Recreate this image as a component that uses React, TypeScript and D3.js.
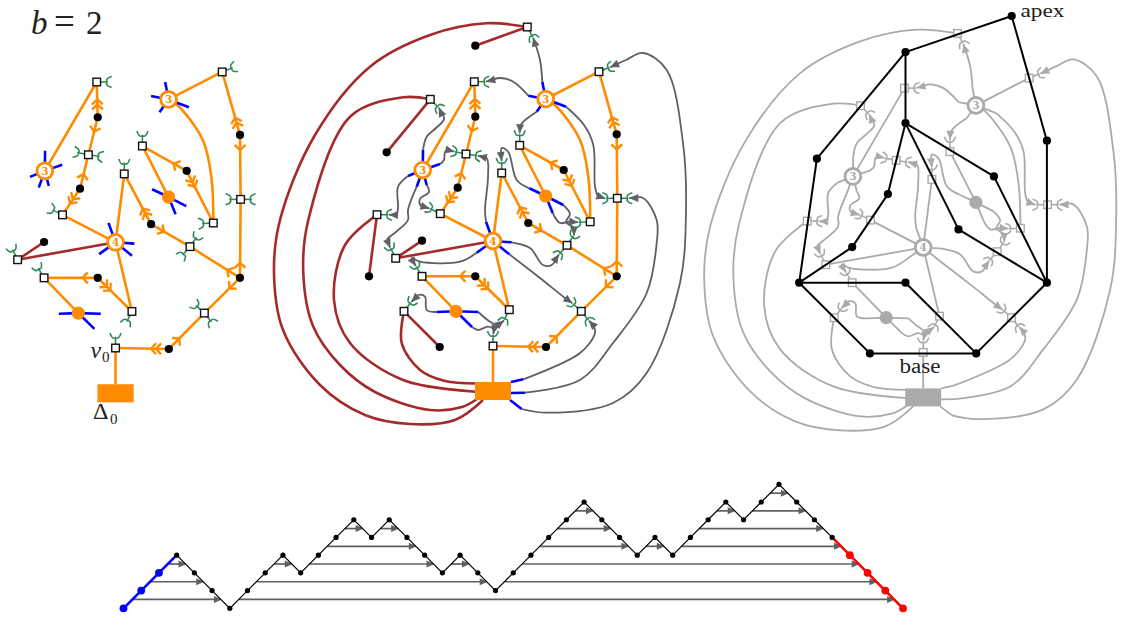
import React from "react";
import * as d3 from "d3";

type P = [number, number];

// positions; the other two panels go through scales
const squares: Record<string, P> = {
  A: [430.3, 99.3], B: [474.3, 81.7], C: [466, 154], D: [440.3, 213.7], E: [377, 214.7], F: [527.3, 27],
  G: [599, 71.7], H: [617.3, 198.3], I: [519.7, 145.3], J: [501.7, 173], K: [590.2, 221.8], L: [395.7, 258.3],
  M: [422, 276.3], N: [404, 311.3], O: [567, 245.3], P: [581.3, 311.3], Q: [509.3, 309.7], V: [493, 346],
};
const midOnlySquares = ["A", "E", "F", "N"];
const dots: Record<string, P> = {
  d1: [475.3, 45.7], d2: [386.7, 152.3], d3: [475.3, 116.7], d4: [457.7, 187.7], d5: [616.7, 134.3],
  d6: [563.7, 170], d7: [422, 240.7], d8: [369, 276.3], d9: [475.3, 276.3], d10: [439.7, 347],
  d11: [528.3, 223], d12: [616.7, 276.3], d13: [546, 347],
};
const midOnlyDots = ["d1", "d2", "d8", "d10"];
const apexPoint: P = [581.5, 9.6];
const hubs: Record<string, { at: P; label: string }> = {
  a: { at: [422.7, 170], label: "3" },
  b: { at: [545.7, 99], label: "3" },
  c: { at: [493, 241], label: "4" },
  o: { at: [545.7, 196], label: "" },
  q: { at: [456, 311.3], label: "" },
};
const baseBox = { x: 475, y: 382, w: 36, h: 18 };

const treeEdges: [string, string][] = [
  ["B", "a"], ["D", "c"], ["G", "b"], ["I", "o"], ["J", "c"], ["Q", "c"], ["M", "q"],
];
const treeCurve: P[] = [[545.7, 99], [555, 105], [580, 140], [588.3, 176.7], [590.2, 221.8]];
const spokeEdges: [string, string, number][] = [
  ["d3", "B", 2], ["d3", "C", 1], ["d4", "C", 1], ["d4", "D", 2], ["d5", "G", 2], ["d5", "H", 1],
  ["d12", "H", 1], ["d6", "I", 1], ["d6", "K", 2], ["d11", "J", 2], ["d11", "O", 1], ["d12", "O", 1],
  ["d12", "P", 1], ["d13", "P", 1], ["d13", "V", 2], ["d9", "M", 1], ["d9", "Q", 2],
];
const brownDotEdges: [string, string][] = [["d7", "L"], ["d1", "F"], ["d2", "A"], ["d8", "E"], ["d10", "N"]];
const brownArcs: P[][] = [
  [[527.3, 27], [486.7, 23.3], [430, 35], [370, 66.7], [315, 135], [280, 220], [274, 273], [283, 330], [320, 385], [365, 415], [410, 424], [455, 420], [483, 400]],
  [[430.3, 99.3], [403.3, 97.3], [350, 116.7], [308.3, 220], [303.3, 273.3], [313, 326], [340, 365], [375, 392], [430, 410], [462, 407], [477, 399]],
  [[377, 214.7], [345, 245], [334, 300], [350, 343], [403, 380], [476, 391.7]],
  [[404, 311.3], [401.7, 343], [420, 370], [445, 381], [476, 383.5]],
];

const ports: Record<string, [string, number, number]> = {
  pA: ["A", 1, 1], pB: ["B", 1, 0], pC1: ["C", -1, -0.2], pC2: ["C", 1, 0.15], pD: ["D", -1, -0.5],
  pE: ["E", 1, 0], pF: ["F", 0.55, 1], pG: ["G", 1, -0.4], pH1: ["H", -1, 0], pH2: ["H", 1, 0],
  pI: ["I", 0, -1], pJ: ["J", 0, -1], pK: ["K", -1, 0.05], pL: ["L", -0.5, -1], pM: ["M", -0.6, -1],
  pN: ["N", 0.8, -1], pO1: ["O", 0.7, -1], pO2: ["O", -0.9, 1], pP1: ["P", -1, -0.9], pP2: ["P", 0.8, 1],
  pQ: ["Q", -0.5, 1], pV: ["V", 0, -1],
};

// hub, end of the blue stub, way-points, port the arrow lands in
const dualEdges: { from: string; stub: P; via: P[]; to: string }[] = [
  { from: "a", stub: [423, 150], via: [[426.7, 136.7], [436, 128], [444, 119]], to: "pA" },
  { from: "a", stub: [440, 164], via: [[444, 160], [445, 152], [448, 150]], to: "pC1" },
  { from: "a", stub: [426.7, 185], via: [[429, 192], [420, 199], [421, 206]], to: "pD" },
  { from: "a", stub: [408, 176], via: [[398, 186.7], [398, 208], [396, 215]], to: "pE" },
  { from: "a", stub: [416.7, 186.7], via: [[408, 210], [408, 220], [396, 232], [387, 240]], to: "pL" },
  { from: "b", stub: [542.3, 81.7], via: [[540, 60]], to: "pF" },
  { from: "b", stub: [528.3, 95.7], via: [[513.3, 81.7], [500, 78]], to: "pB" },
  { from: "b", stub: [536.7, 111.7], via: [[523.3, 121.7], [520, 127]], to: "pI" },
  { from: "b", stub: [566, 106.7], via: [[584, 125], [593.3, 145], [595, 186.7], [598, 196]], to: "pH1" },
  { from: "o", stub: [529.3, 188.3], via: [[516.7, 180], [508.3, 152], [501.7, 148], [501, 155]], to: "pJ" },
  { from: "o", stub: [563.3, 205], via: [[570, 214], [566, 222], [574, 228]], to: "pO1" },
  { from: "o", stub: [552.7, 213], via: [[560, 223], [570, 221.5]], to: "pK" },
  { from: "c", stub: [486, 221.7], via: [[485, 210], [488, 177], [486.7, 158]], to: "pC2" },
  { from: "c", stub: [511.7, 242.3], via: [[530, 248], [543, 265], [551.7, 265]], to: "pO2" },
  { from: "c", stub: [509.3, 254.3], via: [[540, 278], [565, 298]], to: "pP1" },
  { from: "c", stub: [476.7, 252.7], via: [[460, 261.7], [420, 261.7], [411.7, 258], [414, 263]], to: "pM" },
  { from: "q", stub: [436.7, 312], via: [[426.7, 310], [425, 296.7], [418.3, 295]], to: "pN" },
  { from: "q", stub: [478.3, 312], via: [[490, 321.7], [498, 325]], to: "pQ" },
  { from: "q", stub: [472, 327], via: [[478, 330], [488, 326.7], [494, 330]], to: "pV" },
  { from: "R", stub: [523.3, 379.3], via: [[580, 353], [595, 333], [593, 325]], to: "pP2" },
  { from: "R", stub: [525, 392.7], via: [[580, 380], [613, 343], [646.7, 293], [656.7, 243], [656.7, 220], [643, 198]], to: "pH2" },
  { from: "R", stub: [521.7, 409], via: [[546.7, 412.7], [613, 403], [646.7, 373], [680, 283], [686, 210], [683, 143], [666.7, 70], [643, 53], [626, 60]], to: "pG" },
];
const stubRoots: Record<string, P> = { a: hubs.a.at, b: hubs.b.at, c: hubs.c.at, o: hubs.o.at, q: hubs.q.at };
const baseStubStarts: P[] = [[511, 382], [511, 393], [510, 400]];

const blackEdges: [string, string][] = [
  ["apex", "d1"], ["apex", "d5"], ["d1", "d3"], ["d1", "d2"], ["d3", "d4"], ["d3", "d6"], ["d3", "d11"],
  ["d2", "d8"], ["d4", "d7"], ["d7", "d8"], ["d5", "d12"], ["d6", "d12"], ["d11", "d12"], ["d8", "d9"],
  ["d9", "d13"], ["d8", "d10"], ["d10", "d13"], ["d12", "d13"],
];

const dyckHeights = [0, 1, 2, 3, 2, 1, 0, 1, 2, 3, 2, 3, 4, 5, 4, 5, 4, 3, 2, 3, 2, 1, 2, 3, 4, 5, 6, 5, 4, 3, 4, 3, 4, 5, 6, 5, 6, 7, 6, 5, 4, 3, 2, 1, 0];
const blueSteps = 3;
const redSteps = 4;

const ORANGE = "#ff8c00", BROWN = "#a52a2a", BLUE = "#0000ff", GREEN = "#2e8b57", SLATE = "#5f5f66", SILVER = "#aaaaaa";

const leftX = d3.scaleLinear().domain([422.7, 616.7]).range([44.8, 240]);
const leftY = d3.scaleLinear().domain([81.7, 346]).range([82, 348]);
const midX = d3.scaleLinear().domain([0, 1]).range([0, 1]);
const midY = midX;
const rightX = d3.scaleLinear().domain([0, 1000]).range([430.2, 1430.2]);
const rightY = d3.scaleLinear().domain([0, 1000]).range([6.4, 1006.4]);
const dyckX = d3.scaleLinear().domain([0, dyckHeights.length - 1]).range([123.5, 903]);
const dyckY = d3.scaleLinear().domain([0, 7]).range([608.3, 484.3]);

const curve = d3.line<P>().curve(d3.curveCatmullRom.alpha(0.5));

function portTip(key: string, dist: number): P {
  const [sq, dx, dy] = ports[key];
  const n = Math.hypot(dx, dy);
  const s = squares[sq];
  return [s[0] + (dx / n) * dist, s[1] + (dy / n) * dist];
}

function Panel({ mode }: { mode: "left" | "mid" | "right" }) {
  const sx = mode === "left" ? leftX : mode === "mid" ? midX : rightX;
  const sy = mode === "left" ? leftY : mode === "mid" ? midY : rightY;
  const grey = mode === "right";
  const T = (p: P): P => [sx(p[0]), sy(p[1])];
  const orange = grey ? SILVER : ORANGE;
  const brown = grey ? SILVER : BROWN;
  const blue = grey ? SILVER : BLUE;
  const green = grey ? SILVER : GREEN;
  const slate = grey ? SILVER : SLATE;
  const edgeW = grey ? 1.8 : 2.6;
  const squareList = Object.keys(squares).filter((k) => mode !== "left" || !midOnlySquares.includes(k));
  const dotList = Object.keys(dots).filter((k) => mode !== "left" || !midOnlyDots.includes(k));
  const portList = Object.keys(ports).filter((k) => mode !== "left" || !midOnlySquares.includes(ports[k][0]));
  const box = { x: sx(baseBox.x), y: sy(baseBox.y), w: sx(baseBox.x + baseBox.w) - sx(baseBox.x), h: sy(baseBox.y + baseBox.h) - sy(baseBox.y) };

  return (
    <g>
      {mode !== "left" && brownArcs.map((arc, i) => (
        <path key={i} d={curve(arc.map(T)) ?? ""} fill="none" stroke={brown} strokeWidth={edgeW} />
      ))}
      {mode !== "left" && dualEdges.map((e, i) => {
        const tip = portTip(e.to, 12);
        const pts = [e.stub, ...e.via, tip].map(T);
        const [a, b] = [pts[pts.length - 2], pts[pts.length - 1]];
        const ang = Math.atan2(b[1] - a[1], b[0] - a[0]);
        const ux = Math.cos(ang), uy = Math.sin(ang);
        const head = [
          [b[0], b[1]],
          [b[0] - ux * 9 - uy * 4, b[1] - uy * 9 + ux * 4],
          [b[0] - ux * 9 + uy * 4, b[1] - uy * 9 - ux * 4],
        ].map((q) => q.join(",")).join(" ");
        return (
          <g key={i}>
            <path d={curve(pts) ?? ""} fill="none" stroke={slate} strokeWidth={1.8} />
            <polygon points={head} fill={slate} />
          </g>
        );
      })}
      {treeEdges.map(([s, h], i) => {
        const a = T(squares[s]), b = T(hubs[h].at);
        return <line key={i} x1={a[0]} y1={a[1]} x2={b[0]} y2={b[1]} stroke={orange} strokeWidth={edgeW} />;
      })}
      <path d={curve(treeCurve.map(T)) ?? ""} fill="none" stroke={orange} strokeWidth={edgeW} />
      {(() => {
        const a = T(squares.V);
        return <line x1={a[0]} y1={a[1]} x2={a[0]} y2={box.y} stroke={orange} strokeWidth={edgeW} />;
      })()}
      {(() => {
        const a = T(squares.L), b = T(hubs.c.at);
        return <line x1={a[0]} y1={a[1]} x2={b[0]} y2={b[1]} stroke={brown} strokeWidth={edgeW} />;
      })()}
      {!grey && brownDotEdges.filter(([d]) => mode !== "left" || !midOnlyDots.includes(d)).map(([d, s], i) => {
        const a = T(dots[d]), b = T(squares[s]);
        return <line key={i} x1={a[0]} y1={a[1]} x2={b[0]} y2={b[1]} stroke={BROWN} strokeWidth={2.6} />;
      })}
      {!grey && spokeEdges.map(([d, s, count], i) => {
        const a = T(dots[d]), b = T(squares[s]);
        const len = Math.hypot(b[0] - a[0], b[1] - a[1]);
        const ux = (b[0] - a[0]) / len, uy = (b[1] - a[1]) / len;
        const marks = d3.range(count).map((k) => 15 + k * 5 - (count - 1) * 2.2);
        return (
          <g key={i} stroke={ORANGE} strokeWidth={2.4} fill="none">
            <line x1={a[0]} y1={a[1]} x2={b[0]} y2={b[1]} strokeWidth={2.6} />
            {marks.map((m, k) => {
              const tx = a[0] + ux * m, ty = a[1] + uy * m;
              return (
                <path key={k} d={`M${tx - ux * 5 - uy * 5.5},${ty - uy * 5 + ux * 5.5}L${tx},${ty}L${tx - ux * 5 + uy * 5.5},${ty - uy * 5 - ux * 5.5}`} />
              );
            })}
          </g>
        );
      })}
      {dualEdges.filter((e) => e.from !== "R").map((e, i) => {
        const a = T(stubRoots[e.from]), b = T(e.stub);
        return <line key={i} x1={a[0]} y1={a[1]} x2={b[0]} y2={b[1]} stroke={blue} strokeWidth={grey ? 1.8 : 2.6} />;
      })}
      {mode !== "left" && dualEdges.filter((e) => e.from === "R").map((e, i) => {
        const a = T(baseStubStarts[i]), b = T(e.stub);
        return <line key={i} x1={a[0]} y1={a[1]} x2={b[0]} y2={b[1]} stroke={blue} strokeWidth={grey ? 1.8 : 2.6} />;
      })}
      {portList.map((k) => {
        const s = T(squares[ports[k][0]]);
        const n = Math.hypot(ports[k][1], ports[k][2]);
        const ux = ports[k][1] / n, uy = ports[k][2] / n;
        const mx = s[0] + ux * 10.5, my = s[1] + uy * 10.5;
        const tx = ux * 4.5, ty = uy * 4.5, px = -uy * 5.5, py = ux * 5.5;
        return (
          <g key={k} stroke={green} strokeWidth={1.6} fill="none">
            <line x1={s[0]} y1={s[1]} x2={mx} y2={my} />
            <path d={`M${mx + tx + px},${my + ty + py}Q${mx - tx * 0.6 + px * 0.6},${my - ty * 0.6 + py * 0.6} ${mx},${my}Q${mx - tx * 0.6 - px * 0.6},${my - ty * 0.6 - py * 0.6} ${mx + tx - px},${my + ty - py}`} />
          </g>
        );
      })}
      {squareList.map((k) => {
        const s = T(squares[k]);
        return <rect key={k} x={s[0] - 3.8} y={s[1] - 3.8} width={7.6} height={7.6} fill="#fff" stroke={grey ? SILVER : "#111"} strokeWidth={1.4} />;
      })}
      <rect x={box.x} y={box.y} width={box.w} height={box.h} fill={orange} />
      {Object.keys(hubs).map((k) => {
        const h = hubs[k];
        const s = T(h.at);
        return h.label ? (
          <g key={k}>
            <circle cx={s[0]} cy={s[1]} r={7.9} fill="#fff" stroke={orange} strokeWidth={2.8} />
            <text x={s[0]} y={s[1] + 3.8} textAnchor="middle" fontFamily="DejaVu Serif" fontWeight="bold" fontSize={10.5} fill={orange}>{h.label}</text>
          </g>
        ) : (
          <circle key={k} cx={s[0]} cy={s[1]} r={6.6} fill={orange} />
        );
      })}
      {!grey && dotList.map((k) => {
        const s = T(dots[k]);
        return <circle key={k} cx={s[0]} cy={s[1]} r={4.1} fill="#000" />;
      })}
      {grey && blackEdges.map(([u, v], i) => {
        const a = T(u === "apex" ? apexPoint : dots[u]), b = T(v === "apex" ? apexPoint : dots[v]);
        return <line key={i} x1={a[0]} y1={a[1]} x2={b[0]} y2={b[1]} stroke="#000" strokeWidth={2} />;
      })}
      {grey && [...Object.values(dots), apexPoint].map((p, i) => {
        const s = T(p);
        return <circle key={i} cx={s[0]} cy={s[1]} r={4.1} fill="#000" />;
      })}
    </g>
  );
}

function Dyck() {
  const n = dyckHeights.length;
  const xy = dyckHeights.map((h, i) => [dyckX(i), dyckY(h)] as P);
  const arrows: { x1: number; x2: number; y: number }[] = [];
  const stack: number[] = [];
  for (let i = 0; i < n - 1; i++) {
    if (dyckHeights[i + 1] > dyckHeights[i]) stack.push(i);
    else {
      const u = stack.pop() as number;
      arrows.push({
        x1: dyckX(u + 0.5),
        x2: dyckX(i + 0.5),
        y: dyckY(dyckHeights[u] + 0.5),
      });
    }
  }
  const line = d3.line<P>();
  return (
    <g>
      {arrows.map((a, i) => (
        <g key={i}>
          <line x1={a.x1} y1={a.y} x2={a.x2 - 5} y2={a.y} stroke={SLATE} strokeWidth={1.7} />
          <polygon points={`${a.x2 + 1},${a.y} ${a.x2 - 7},${a.y - 3.5} ${a.x2 - 7},${a.y + 3.5}`} fill={SLATE} />
        </g>
      ))}
      <path d={line(xy) ?? ""} fill="none" stroke="#000" strokeWidth={1.2} />
      <path d={line(xy.slice(0, blueSteps + 1)) ?? ""} fill="none" stroke={BLUE} strokeWidth={2.6} />
      <path d={line(xy.slice(n - 1 - redSteps)) ?? ""} fill="none" stroke="#ff0000" strokeWidth={2.6} />
      {xy.map((p, i) => {
        const blue = i < blueSteps;
        const red = i > n - 1 - redSteps;
        return <circle key={i} cx={p[0]} cy={p[1]} r={blue || red ? 3.9 : 2.6} fill={blue ? BLUE : red ? "#ff0000" : "#000"} />;
      })}
    </g>
  );
}

export default function App() {
  const serif = "Liberation Serif";
  return (
    <svg width={1121} height={617} viewBox="0 0 1121 617" style={{ position: "absolute", left: 0, top: 0, background: "#fff" }}>
      <Panel mode="right" />
      <Panel mode="mid" />
      <Panel mode="left" />
      <Dyck />
      <text fontFamily={serif} fontSize={33} fill="#222">
        <tspan x={31} y={34} fontStyle="italic">b</tspan>
        <tspan x={54} y={34} fontSize={37}>=</tspan>
        <tspan x={86} y={34}>2</tspan>
      </text>
      <text fontFamily={serif} fontSize={24} fill="#222">
        <tspan x={90.5} y={358} fontStyle="italic">v</tspan>
        <tspan x={102} y={362} fontSize={15}>0</tspan>
      </text>
      <text fontFamily={serif} fontSize={24} fill="#222">
        <tspan x={93} y={419}>Δ</tspan>
        <tspan x={110} y={424} fontSize={15}>0</tspan>
      </text>
      <text x={1020.5} y={16.5} fontFamily={serif} fontSize={18} textLength={44} lengthAdjust="spacingAndGlyphs" fill="#222">apex</text>
      <text x={899.5} y={373} fontFamily={serif} fontSize={20} textLength={41} lengthAdjust="spacingAndGlyphs" fill="#222">base</text>
    </svg>
  );
}
